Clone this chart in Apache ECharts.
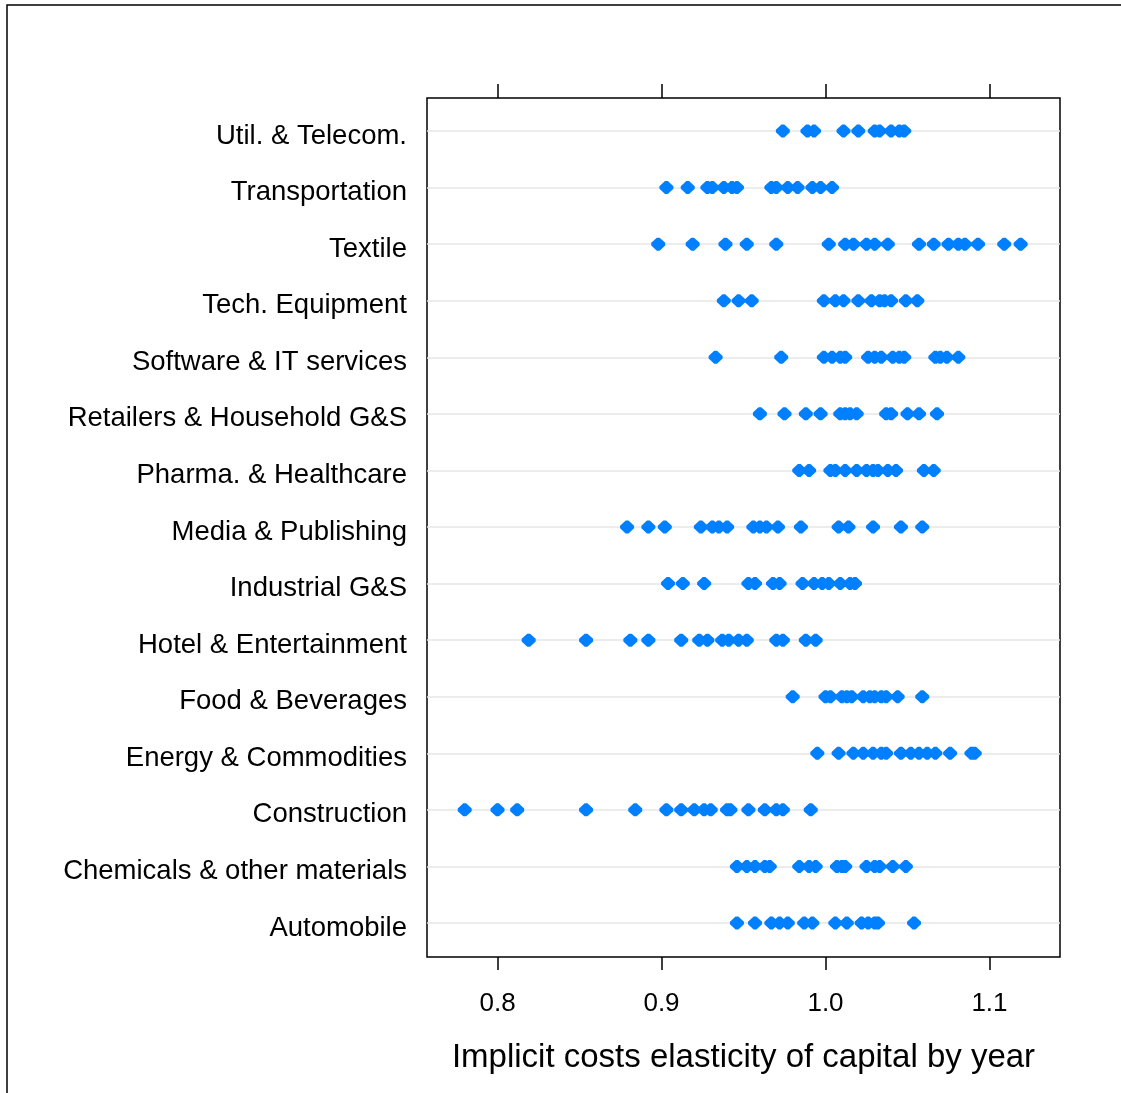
<!DOCTYPE html>
<html lang="en">

<head>
    <meta charset="UTF-8">
    <title>Implicit costs elasticity dotplot</title>
    <script src="https://cdn.jsdelivr.net/npm/echarts@6/dist/echarts.min.js"></script>
    <style>
        html, body { margin: 0; padding: 0; background: #fff; }
        #main { width: 1121px; height: 1093px; }
    </style>
</head>

<body>
    <div id="main"></div>

    <script>
        // industries, bottom to top
        const industries = [
            "Automobile", "Chemicals & other materials", "Construction",
            "Energy & Commodities", "Food & Beverages", "Hotel & Entertainment",
            "Industrial G&S", "Media & Publishing", "Pharma. & Healthcare",
            "Retailers & Household G&S", "Software & IT services", "Tech. Equipment",
            "Textile", "Transportation", "Util. & Telecom."
        ];

        const automobile = [0.946, 0.957, 0.967, 0.972, 0.977, 0.987, 0.992, 1.006, 1.013, 1.022, 1.026, 1.030, 1.032, 1.054];
        const chemicals = [0.946, 0.952, 0.957, 0.963, 0.966, 0.984, 0.990, 0.994, 1.007, 1.010, 1.012, 1.025, 1.030, 1.033, 1.041, 1.049];
        const construction = [0.780, 0.800, 0.812, 0.854, 0.884, 0.903, 0.912, 0.920, 0.926, 0.930, 0.940, 0.942, 0.953, 0.963, 0.970, 0.974, 0.991];
        const energy = [0.995, 1.008, 1.017, 1.023, 1.029, 1.034, 1.037, 1.046, 1.052, 1.057, 1.062, 1.067, 1.076, 1.089, 1.091];
        const food = [0.980, 1.000, 1.003, 1.010, 1.013, 1.016, 1.023, 1.027, 1.030, 1.034, 1.037, 1.044, 1.059];
        const hotel = [0.819, 0.854, 0.881, 0.892, 0.912, 0.923, 0.928, 0.937, 0.941, 0.947, 0.952, 0.970, 0.974, 0.988, 0.994];
        const industrial = [0.904, 0.913, 0.926, 0.953, 0.957, 0.968, 0.972, 0.986, 0.993, 0.998, 1.002, 1.009, 1.015, 1.018];
        const media = [0.879, 0.892, 0.902, 0.924, 0.931, 0.935, 0.940, 0.956, 0.960, 0.964, 0.971, 0.985, 1.008, 1.014, 1.029, 1.046, 1.059];
        const pharma = [0.984, 0.990, 1.003, 1.006, 1.012, 1.019, 1.025, 1.029, 1.032, 1.038, 1.043, 1.060, 1.066];
        const retailers = [0.960, 0.975, 0.988, 0.997, 1.009, 1.012, 1.015, 1.019, 1.037, 1.040, 1.050, 1.057, 1.068];
        const software = [0.933, 0.973, 0.999, 1.004, 1.009, 1.012, 1.026, 1.030, 1.034, 1.041, 1.045, 1.048, 1.067, 1.070, 1.074, 1.081];
        const techEquip = [0.938, 0.947, 0.955, 0.999, 1.006, 1.011, 1.020, 1.028, 1.033, 1.036, 1.040, 1.049, 1.056];
        const textile = [0.898, 0.919, 0.939, 0.952, 0.970, 1.002, 1.012, 1.017, 1.025, 1.030, 1.038, 1.057, 1.066, 1.075, 1.081, 1.085, 1.093, 1.109, 1.119];
        const transportation = [0.903, 0.916, 0.928, 0.931, 0.938, 0.943, 0.946, 0.967, 0.970, 0.977, 0.983, 0.992, 0.997, 1.004];
        const utilTelecom = [0.974, 0.989, 0.993, 1.011, 1.020, 1.030, 1.033, 1.040, 1.045, 1.048];

        const values = [automobile, chemicals, construction, energy, food, hotel, industrial,
            media, pharma, retailers, software, techEquip, textile, transportation, utilTelecom];

        const xTicks = [0.8, 0.9, 1.0, 1.1];
        const xMin = 0.757, xMax = 1.143;

        const points = [];
        values.forEach((arr, i) => {
            arr.forEach(v => points.push([v, industries[i]]));
        });

        const chart = echarts.init(document.getElementById('main'));
        const font = "Arial, 'Liberation Sans', sans-serif";

        const option = {
            animation: false,
            backgroundColor: '#fff',
            graphic: [{
                type: 'rect',
                shape: { x: 7, y: 5, width: 1300, height: 1300 },
                style: { fill: 'none', stroke: '#000', lineWidth: 1.5 },
                silent: true
            }],
            grid: [
                // frame
                { left: 427, right: 61, top: 98, bottom: 136, show: true, borderColor: '#000', borderWidth: 1.5, backgroundColor: 'transparent' },
                // rows
                { left: 427, right: 61, top: 131, bottom: 170 }
            ],
            xAxis: [
                {
                    gridIndex: 0, type: 'value', min: xMin, max: xMax, position: 'bottom',
                    axisLine: { show: false },
                    axisTick: { show: true, length: 13, lineStyle: { color: '#000', width: 1.5 }, customValues: xTicks },
                    axisLabel: {
                        customValues: xTicks, margin: 34, color: '#000', fontSize: 26, fontFamily: font,
                        formatter: v => v.toFixed(1)
                    },
                    splitLine: { show: false },
                    name: 'Implicit costs elasticity of capital by year',
                    nameLocation: 'middle', nameGap: 84,
                    nameTextStyle: { color: '#000', fontSize: 33, fontFamily: font }
                },
                {
                    gridIndex: 0, type: 'value', min: xMin, max: xMax, position: 'top',
                    axisLine: { show: false },
                    axisTick: { show: true, length: 14, lineStyle: { color: '#000', width: 1.5 }, customValues: xTicks },
                    axisLabel: { show: false },
                    splitLine: { show: false }
                },
                {
                    gridIndex: 1, type: 'value', min: xMin, max: xMax, show: false
                }
            ],
            yAxis: [
                { gridIndex: 0, type: 'value', show: false },
                {
                    gridIndex: 1, type: 'category', data: industries, boundaryGap: false,
                    axisLine: { show: false },
                    axisTick: { show: false },
                    axisLabel: {
                        margin: 20, color: '#000', fontSize: 27.5, fontFamily: font,
                        verticalAlign: 'top', lineHeight: 10
                    },
                    splitLine: { show: true, lineStyle: { color: '#e6e6e6', width: 1.5 } }
                }
            ],
            series: [{
                type: 'scatter',
                xAxisIndex: 2,
                yAxisIndex: 1,
                data: points,
                symbol: 'path://M4,0 L6,0 L10,4 L10,6 L6,10 L4,10 L0,6 L0,4 Z',
                symbolSize: [14, 13],
                itemStyle: { color: '#0080ff', opacity: 1 }
            }]
        };

        chart.setOption(option);
    </script>
</body>

</html>
